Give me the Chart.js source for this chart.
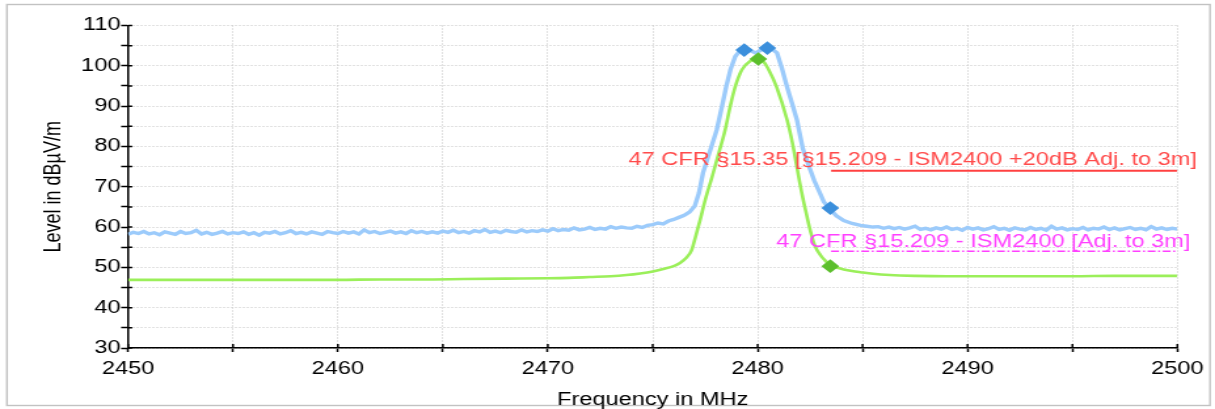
<!DOCTYPE html>
<html>
<head>
<meta charset="utf-8">
<script src="https://cdn.jsdelivr.net/npm/chart.js@4.4.1/dist/chart.umd.min.js"></script>
<style>
html,body{margin:0;padding:0;background:#fff;overflow:hidden}
canvas{display:block}
</style>
</head>
<body>
<canvas id="c" width="927" height="409" style="width:1215px;height:409px"></canvas>
<script>
// ---------- data ----------
const sweepStep = 0.25;

// peak-detector trace (blue), left noise floor, 2450 .. 2473.75 MHz
const blueLeftStart = 2450;
const blueLeftLevels = [
  58.2, 58.7, 58.4, 58.9, 58.3, 58.6, 58.1, 58.8, 58.5, 58.2, 58.9, 58.4, 58.6, 59.2, 58.3, 58.7, 58.2, 58.5, 58.9, 58.3, 58.6,
  58.4, 58.8, 58.2, 58.6, 58.0, 58.7, 58.5, 58.9, 58.3, 58.6, 59.1, 58.4, 58.7, 58.3, 58.8, 58.5, 58.2, 58.9, 58.6,
  58.4, 58.9, 58.5, 58.8, 58.3, 59.3, 58.6, 58.9, 58.4, 58.7, 59.0, 58.5, 58.8, 58.4, 59.1, 58.6, 58.9, 58.5, 58.8,
  58.5, 59.0, 58.7, 59.2, 58.6, 58.9, 58.5, 59.1, 58.8, 59.4, 58.7, 59.0, 58.6, 59.2, 58.9, 58.7, 59.3, 58.8, 59.1,
  58.9, 59.3, 59.0, 59.6, 59.1, 59.4, 59.2, 59.8, 59.3, 59.5, 59.9, 59.4, 59.7, 59.5, 60.1, 59.7, 60.0, 59.8
];

// blue trace around the carrier
const bluePeakFreqs = [
  2474.0, 2474.25, 2474.5, 2474.75, 2475.0, 2475.25, 2475.5, 2475.75, 2476.0, 2476.25, 2476.5, 2476.75, 2477.0,
  2477.2, 2477.4, 2477.6, 2477.8, 2478.05, 2478.3, 2478.5, 2478.7, 2478.93, 2479.1, 2479.35, 2479.6, 2479.9,
  2480.2, 2480.5, 2480.7, 2480.92, 2481.15, 2481.4, 2481.65, 2481.87, 2482.15, 2482.45, 2482.7, 2482.9,
  2483.15, 2483.45, 2483.75, 2484.1, 2484.5, 2484.9, 2485.2, 2485.5
];
const bluePeakLevels = [
  59.7, 60.2, 59.9, 60.4, 60.6, 61.0, 60.8, 61.5, 61.9, 62.4, 62.9, 63.7, 65.2,
  68.4, 73.5, 76.8, 80.0, 84.1, 89.9, 94.8, 99.0, 102.3, 103.4, 104.1, 103.9, 103.2,
  104.0, 104.5, 104.1, 103.2, 99.5, 94.8, 90.5, 86.6, 79.5, 75.0, 71.5, 69.2,
  66.3, 64.4, 62.8, 61.6, 60.9, 60.4, 60.2, 60.0
];

// blue trace, right noise floor, 2485.75 .. 2500 MHz
const blueRightStart = 2485.75;
const blueRightLevels = [
  60.1, 59.7, 60.0, 59.6, 59.9, 59.5, 59.8, 60.2, 59.4, 59.7,
  59.3, 59.8, 59.5, 60.0, 59.4, 59.7, 59.2, 59.9, 59.5, 59.8,
  59.3, 59.6, 60.1, 59.4, 59.7, 59.2, 59.8, 59.5, 59.3, 59.9,
  59.4, 59.7, 59.2, 60.2, 59.5, 59.8, 59.3, 59.6, 59.4, 59.9,
  59.3, 59.7, 59.5, 60.0, 59.4, 59.8, 59.3, 59.6, 59.9, 59.4,
  59.7, 59.3, 60.1, 59.5, 59.8, 59.4, 59.7, 59.5
];

// average-detector trace (green)
const greenFreqs = [
  2450, 2452, 2454, 2456, 2458, 2460, 2462, 2464, 2466, 2468, 2470, 2471, 2472, 2473, 2473.75,
  2474.4, 2475.0, 2475.5, 2476.0, 2476.3, 2476.6, 2476.85, 2477.05, 2477.25, 2477.5, 2477.83,
  2478.1, 2478.45, 2478.69, 2478.93, 2479.25, 2479.65, 2480.03, 2480.3, 2480.55, 2480.9,
  2481.4, 2481.65, 2481.9, 2482.1, 2482.35, 2482.55, 2482.75, 2483.0, 2483.2, 2483.46, 2483.8,
  2484.1, 2484.5, 2484.9, 2485.5, 2486.3, 2487.5, 2489, 2491, 2493, 2495, 2497, 2500
];
const greenLevels = [
  46.9, 46.9, 46.9, 46.9, 46.9, 46.9, 47.0, 47.0, 47.1, 47.2, 47.3, 47.4, 47.6, 47.8, 48.1,
  48.5, 49.0, 49.6, 50.3, 51.1, 52.4, 54.2, 57.8, 61.6, 66.7, 72.5,
  77.5, 84.1, 89.9, 94.8, 99.0, 101.2, 101.7, 100.9, 98.8, 94.8,
  86.6, 81.0, 74.0, 68.5, 62.6, 58.3, 55.1, 53.0, 51.8, 50.5, 49.9,
  49.5, 49.1, 48.8, 48.4, 48.1, 47.9, 47.8, 47.8, 47.8, 47.8, 47.9, 47.9
];

// final-measurement markers
const blueMarkerFreqs = [2479.36, 2480.46, 2483.46];
const blueMarkerLevels = [103.9, 104.4, 64.7];
const greenMarkerFreqs = [2480.03, 2483.46];
const greenMarkerLevels = [101.7, 50.3];

// limit lines
const limitFreqs = [2483.5, 2500];
const peakLimit = 74;
const avgLimit = 54;
const peakLimitLabel = '47 CFR §15.35 [§15.209 - ISM2400 +20dB Adj. to 3m]';
const avgLimitLabel = '47 CFR §15.209 - ISM2400 [Adj. to 3m]';

// axes
const xMin = 2450, xMax = 2500, xStep = 5, xLabelEvery = 10;
const yMin = 30, yMax = 110, yStep = 5, yLabelEvery = 10;
const xTitle = 'Frequency in MHz';
const yTitle = 'Level in dBµV/m';

// ---------- build point lists ----------
const bluePoints = [];
blueLeftLevels.forEach((v, i) => bluePoints.push({x: blueLeftStart + i * sweepStep, y: v}));
bluePeakFreqs.forEach((f, i) => bluePoints.push({x: f, y: bluePeakLevels[i]}));
blueRightLevels.forEach((v, i) => bluePoints.push({x: blueRightStart + i * sweepStep, y: v}));
const greenPoints = greenFreqs.map((f, i) => ({x: f, y: greenLevels[i]}));
const blueMarkers = blueMarkerFreqs.map((f, i) => ({x: f, y: blueMarkerLevels[i]}));
const greenMarkers = greenMarkerFreqs.map((f, i) => ({x: f, y: greenMarkerLevels[i]}));
const peakLimitPts = limitFreqs.map(f => ({x: f, y: peakLimit}));
const avgLimitPts = limitFreqs.map(f => ({x: f, y: avgLimit}));

const FONT = '"Liberation Sans", Arial, Helvetica, sans-serif';
Chart.defaults.font.family = FONT;
Chart.defaults.color = '#000';

const framePlugin = {
  id: 'frame',
  beforeDraw(chart) {
    const {ctx, width, height} = chart;
    ctx.save();
    ctx.fillStyle = '#fff';
    ctx.fillRect(0, 0, width, height);
    ctx.strokeStyle = '#c2c2c2';
    ctx.lineWidth = 1.4;
    ctx.strokeRect(5.3, 4.5, width - 5.3 - 3.8, height - 4.5 - 3.5);
    ctx.restore();
  }
};

const innerTicksPlugin = {
  id: 'innerTicks',
  afterDraw(chart) {
    const {ctx, chartArea: a, scales: {x, y}} = chart;
    ctx.save();
    ctx.strokeStyle = '#000';
    ctx.lineWidth = 1.5;
    ctx.beginPath();
    y.ticks.forEach(t => { const p = y.getPixelForValue(t.value); ctx.moveTo(a.left, p); ctx.lineTo(a.left + 3.2, p); });
    x.ticks.forEach(t => { const p = x.getPixelForValue(t.value); ctx.moveTo(p, a.bottom); ctx.lineTo(p, a.bottom - 4); });
    ctx.stroke();
    ctx.restore();
  }
};

const limitTextPlugin = {
  id: 'limitText',
  afterDatasetsDraw(chart) {
    const {ctx, scales: {x, y}} = chart;
    ctx.save();
    ctx.font = '18px ' + FONT;
    ctx.textAlign = 'right';
    ctx.textBaseline = 'middle';
    ctx.fillStyle = '#ff4b4b';
    ctx.fillText(peakLimitLabel, x.getPixelForValue(xMax) + 15, y.getPixelForValue(peakLimit) - 11);
    ctx.fillStyle = '#ff40ff';
    ctx.fillText(avgLimitLabel, x.getPixelForValue(xMax) + 10, y.getPixelForValue(avgLimit) - 9.5);
    ctx.restore();
  }
};

new Chart(document.getElementById('c'), {
  type: 'scatter',
  data: {
    datasets: [
      {data: blueMarkers, pointStyle: 'rectRot', pointRadius: 6.8, backgroundColor: '#3b8fdc', borderWidth: 0, showLine: false},
      {data: greenMarkers, pointStyle: 'rectRot', pointRadius: 6.8, backgroundColor: '#5cbf2c', borderWidth: 0, showLine: false},
      {data: peakLimitPts, showLine: true, borderColor: '#ff4040', borderWidth: 2, pointRadius: 0},
      {data: avgLimitPts, showLine: true, borderColor: '#ff40ff', borderWidth: 1.3, borderDash: [6, 2, 1.5, 2], pointRadius: 0},
      {data: greenPoints, showLine: true, borderColor: '#9bef5a', borderWidth: 2.6, pointRadius: 0, cubicInterpolationMode: 'monotone'},
      {data: bluePoints, showLine: true, borderColor: '#9ccbfb', borderWidth: 3.4, pointRadius: 0, tension: 0}
    ]
  },
  options: {
    responsive: false,
    animation: false,
    devicePixelRatio: 1,
    layout: {padding: {left: 0, right: 28.7, top: 25.5, bottom: 0}},
    plugins: {legend: {display: false}, tooltip: {enabled: false}},
    scales: {
      x: {
        type: 'linear', min: xMin, max: xMax,
        afterFit(s) { s.height = 61; },
        ticks: {stepSize: xStep, autoSkip: false, maxRotation: 0, padding: 6, color: '#000', font: {size: 18},
                callback: v => (v % xLabelEvery === 0 ? String(v) : '')},
        grid: {color: '#c4c4c4', lineWidth: 1, tickColor: '#000', tickWidth: 1.5, tickLength: 4, borderDash: [1, 2]},
        border: {display: true, color: '#000', width: 1.5, dash: [1, 2]},
        title: {display: true, text: xTitle, color: '#000', font: {size: 18, lineHeight: 1}, padding: 0}
      },
      y: {
        type: 'linear', min: yMin, max: yMax,
        afterFit(s) { s.width = 97.7; },
        ticks: {stepSize: yStep, autoSkip: false, padding: 0.5, color: '#000', font: {size: 18},
                callback: v => (v % yLabelEvery === 0 ? String(v) : '')},
        grid: {color: '#c4c4c4', lineWidth: 1, tickColor: '#000', tickWidth: 1.5, tickLength: 5.3, borderDash: [1, 2]},
        border: {display: true, color: '#000', width: 1.5, dash: [1, 2]},
        title: {display: true, text: yTitle, color: '#000', font: {size: 18, lineHeight: 1}, padding: {top: 32, bottom: 0}}
      }
    }
  },
  plugins: [framePlugin, innerTicksPlugin, limitTextPlugin]
});
</script>
</body>
</html>
